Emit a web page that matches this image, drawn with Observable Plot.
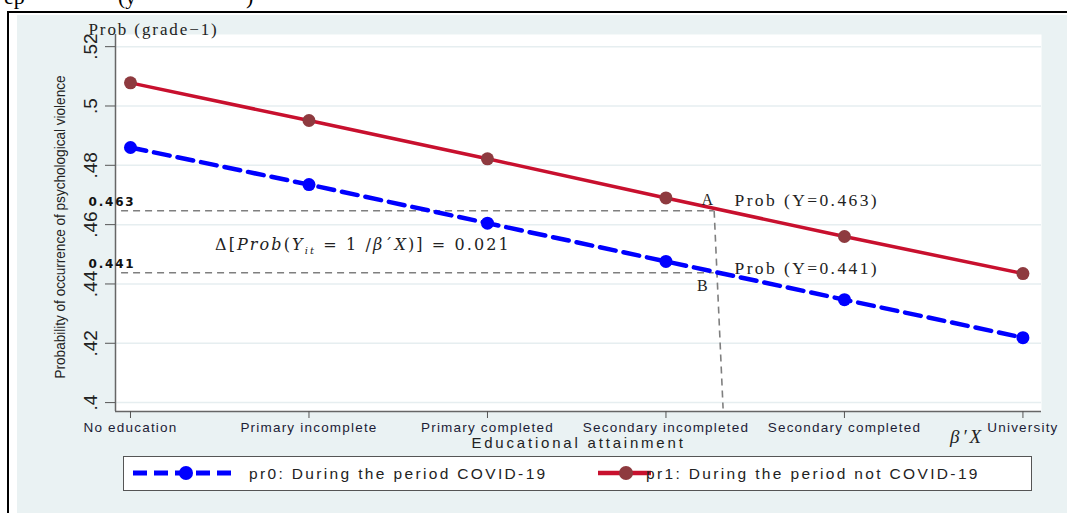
<!DOCTYPE html>
<html>
<head>
<meta charset="utf-8">
<script src="https://cdn.jsdelivr.net/npm/d3@7"></script>
<script src="https://cdn.jsdelivr.net/npm/@observablehq/plot@0.6"></script>
<style>
  body { margin: 0; background: white; }
  #wrap { position: relative; width: 1067px; height: 513px; overflow: hidden; background: white; font-family: "Liberation Sans", Arial, sans-serif; }
  .abs { position: absolute; }
</style>
</head>
<body>
<div id="wrap">
  <div class="abs" style="left:7px;top:11px;width:1070px;height:510px;border-top:2px solid #000;border-left:2px solid #000;"></div>
  <div class="abs" style="left:17px;top:15px;right:0;bottom:0;background:#EAF2F3;"></div>
  <div class="abs" style="left:4px;top:-16px;font-family:'Liberation Serif',serif;font-size:22px;color:#000;white-space:pre;">ep</div>
  <div class="abs" style="left:118px;top:-16px;font-family:'Liberation Serif',serif;font-size:22px;color:#000;white-space:pre;">(y</div>
  <div class="abs" style="left:246px;top:-16px;font-family:'Liberation Serif',serif;font-size:22px;color:#000;white-space:pre;">)</div>
  <div id="chart" class="abs" style="left:0;top:0;"></div>
  <div id="formula" class="abs" style="left:215px;top:235px;font-family:'DejaVu Serif','Liberation Serif',serif;font-size:16px;color:#222;white-space:pre;letter-spacing:2.1px;"></div>
  <div id="betax" class="abs" style="left:950px;top:426px;font-family:'Liberation Serif',serif;font-style:italic;font-size:19px;color:#222;white-space:pre;letter-spacing:3px;">β′X</div>
  <div id="legend" class="abs" style="left:123px;top:456px;width:907px;height:33px;border:1px solid #555;background:#fff;"></div>
</div>
<script>
// ---- data ----
const categories = ["No education", "Primary incomplete", "Primary completed", "Secondary incompleted", "Secondary completed", "University"];
const pr0 = [0.4860, 0.4735, 0.4605, 0.4476, 0.4347, 0.4219];
const pr1 = [0.5078, 0.4951, 0.4822, 0.4690, 0.4560, 0.4435];
const yTicks = [0.4, 0.42, 0.44, 0.46, 0.48, 0.5, 0.52];
const refLabels = ["0.463", "0.441"];
const refLevels = [0.4647, 0.4438];
const refProbText = ["Prob (Y=0.463)", "Prob (Y=0.441)"];
const pointLabels = ["A", "B"];
const deltaText = "0.021";
const seriesNames = ["pr0: During the period COVID-19", "pr1: During the period not COVID-19"];
const yTitle = "Probability of occurrence of psychological violence";
const xTitle = "Educational attainment";
const topLabel = "Prob (grade\u22121)";

const rows = categories.map((c, i) => ({i, c, pr0: pr0[i], pr1: pr1[i]}));
const xDomain = [-0.084, 5.104];
const yDomain = [0.397, 0.5241];
const xCut = 3.27, xCutBottom = 3.32;

const blue = "#0000FF", red = "#C8102E", maroon = "#8E3A3F";
const fmt = d => d3.format(".2f")(d).replace(/^0/, "").replace(/0$/, "");
const serif = "Liberation Serif, Times New Roman, serif";
const narrow = "Liberation Sans Narrow, Liberation Sans, Arial, sans-serif";

const chart = Plot.plot({
  width: 1067, height: 513,
  marginLeft: 115, marginRight: 26, marginTop: 34, marginBottom: 102,
  style: {background: "transparent", fontFamily: "Liberation Sans, Arial, sans-serif"},
  x: {domain: xDomain, axis: null},
  y: {domain: yDomain, axis: null},
  marks: [
    Plot.frame({fill: "white", stroke: null}),
    Plot.ruleY(yTicks, {stroke: "#E6EEF0", strokeWidth: 1.5}),
    Plot.ruleY(refLevels, {x1: -0.05, x2: xCut, stroke: "#7f7f7f", strokeWidth: 1.6, strokeDasharray: "7,5"}),
    Plot.link([0], {x1: xCut, y1: refLevels[0], x2: xCutBottom, y2: 0.398, stroke: "#7f7f7f", strokeWidth: 1.6, strokeDasharray: "7,5"}),
    Plot.line(rows, {x: "i", y: "pr1", stroke: red, strokeWidth: 3.5}),
    Plot.line(rows, {x: "i", y: "pr0", stroke: blue, strokeWidth: 4.5, strokeDasharray: "16,8"}),
    Plot.dot(rows, {x: "i", y: "pr1", r: 6.5, fill: maroon, stroke: null}),
    Plot.dot(rows, {x: "i", y: "pr0", r: 6.5, fill: blue, stroke: null}),
    Plot.ruleY([yDomain[0]], {stroke: "#666", strokeWidth: 1.5}),
    Plot.ruleX([xDomain[0]], {stroke: "#666", strokeWidth: 1.5}),
    Plot.axisX({ticks: [0, 1, 2, 3, 4, 5], tickFormat: i => categories[i], tickSize: 7, tickPadding: 4, fontSize: 13.5, stroke: "#555", fill: "#1c1c36", label: null}),
    Plot.axisY({ticks: yTicks, tickSize: 10, tickFormat: () => "", stroke: "#555", label: null}),
    Plot.text(yTicks, {x: xDomain[0], y: d => d, text: fmt, rotate: -90, dx: -25, fontSize: 19, fontFamily: narrow, fill: "#222"}),
    Plot.text([yTitle], {frameAnchor: "left", textAnchor: "middle", rotate: -90, dx: -55, dy: 4, fontSize: 15, fontFamily: narrow, fill: "#222"}),
    Plot.text([xTitle], {frameAnchor: "bottom", dy: 36, fontSize: 15, fill: "#222"}),
    Plot.text([topLabel], {frameAnchor: "top-left", textAnchor: "start", dx: -27, dy: -12, fontSize: 17, fontFamily: serif, fill: "#222"}),
    Plot.text(refLabels, {x: -0.235, y: (d, i) => refLevels[i], text: d => d, textAnchor: "start", dy: -9, fontSize: 12, fontWeight: "bold", fontFamily: "DejaVu Sans, sans-serif", fill: "#111"}),
    Plot.text([refProbText[0]], {x: 3.384, y: [refLevels[0]], textAnchor: "start", dy: -10, fontSize: 17.5, fontFamily: serif, fill: "#222"}),
    Plot.text([refProbText[1]], {x: 3.384, y: [refLevels[1]], textAnchor: "start", dy: -4, fontSize: 17.5, fontFamily: serif, fill: "#222"}),
    Plot.text([pointLabels[0]], {x: 3.232, y: [refLevels[0]], dy: -11, fontSize: 16, fontFamily: serif, fill: "#222"}),
    Plot.text([pointLabels[1]], {x: 3.204, y: [refLevels[1]], dy: 13, fontSize: 16, fontFamily: serif, fill: "#222"})
  ]
});
document.getElementById("chart").appendChild(chart);

// text spacing adjustments (the reference is horizontally stretched)
const spacing = new Map([
  [topLabel, 1.9],
  [refProbText[0], 2.4], [refProbText[1], 2.4],
  [refLabels[0], 1.8], [refLabels[1], 1.8],
  [xTitle, 2.8]
]);
categories.forEach(c => spacing.set(c, 1.2));
d3.select(chart).selectAll("text").each(function() {
  const t = this.textContent;
  if (spacing.has(t)) this.style.letterSpacing = spacing.get(t) + "px";
  if (t === yTitle) {
    this.setAttribute("textLength", 303);
    this.setAttribute("lengthAdjust", "spacingAndGlyphs");
  }
});

// formula
document.getElementById("formula").innerHTML =
  'Δ[<i>Prob</i>(<i>Y</i><sub style="font-size:10px;font-style:italic">it</sub> = 1 /<i>β</i>΄<i>X</i>)] = ' + deltaText;

// legend
const lg = d3.select("#legend").append("svg").attr("width", 907).attr("height", 33);
lg.append("line").attr("x1", 9).attr("x2", 107).attr("y1", 16).attr("y2", 16)
  .attr("stroke", blue).attr("stroke-width", 5).attr("stroke-dasharray", "14,7");
lg.append("circle").attr("cx", 62).attr("cy", 16).attr("r", 7).attr("fill", blue);
lg.append("text").attr("x", 125).attr("y", 21.5).attr("font-size", 15.5).attr("fill", "#222")
  .attr("letter-spacing", 2.35).attr("font-family", "Liberation Sans, Arial, sans-serif").text(seriesNames[0]);
lg.append("line").attr("x1", 474).attr("x2", 527).attr("y1", 16).attr("y2", 16)
  .attr("stroke", red).attr("stroke-width", 4.5);
lg.append("circle").attr("cx", 502).attr("cy", 16).attr("r", 7).attr("fill", maroon);
lg.append("text").attr("x", 522).attr("y", 21.5).attr("font-size", 15.5).attr("fill", "#222")
  .attr("letter-spacing", 2.35).attr("font-family", "Liberation Sans, Arial, sans-serif").text(seriesNames[1]);
</script>
</body>
</html>
